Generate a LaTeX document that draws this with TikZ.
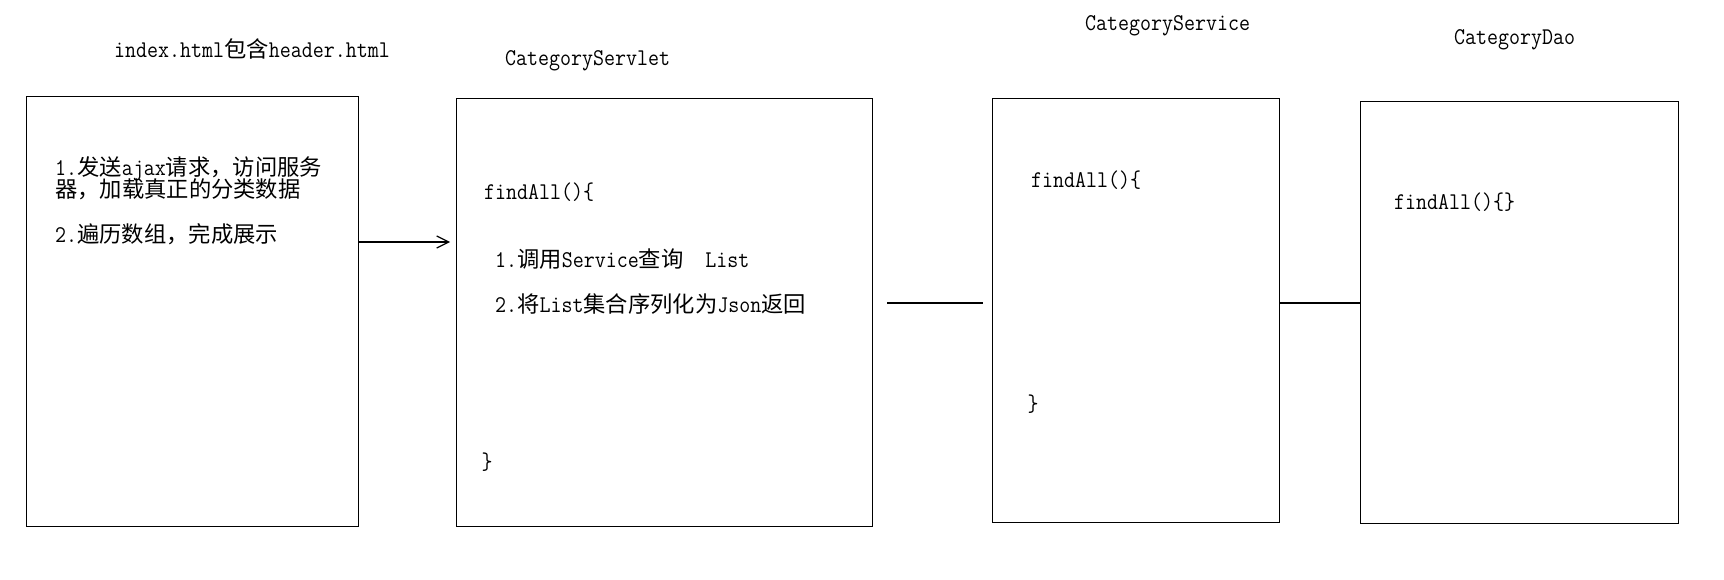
\documentclass[tikz,border=0pt]{standalone}
\usepackage{fontspec}
\setmainfont[FakeStretch=0.89]{Latin Modern Mono}
\newfontfamily\cjkf{Noto Sans CJK SC}
\usetikzlibrary{arrows.meta}
\newcommand\zh[1]{{\cjkf\fontsize{22.3pt}{20pt}\selectfont #1}}
\tikzset{
  box/.style={draw=black, line width=1.3pt, inner sep=0pt, anchor=north west},
  txt/.style={anchor=base west, inner sep=0pt, font=\fontsize{24pt}{20pt}\selectfont},
  brace/.style={anchor=center, inner sep=0pt, font=\fontsize{24pt}{20pt}\selectfont},
  conn/.style={draw=black, line width=1.3pt},
  arr/.style={conn, -{Straight Barb[length=12pt,width=12pt,line width=1.2pt]}}
}
\begin{document}
\begin{tikzpicture}[x=1pt,y=-1pt]
\fill[white] (0,0) rectangle (1724,580);
\useasboundingbox (0,0) rectangle (1724,580);
% boxes
\node[box, minimum width=332pt, minimum height=430pt] (b1) at (26,96) {};
\node[box, minimum width=416pt, minimum height=428pt] (b2) at (456,98) {};
\node[box, minimum width=287pt, minimum height=424pt] (b3) at (992,98) {};
\node[box, minimum width=318pt, minimum height=422pt] (b4) at (1360,101) {};
% titles
\node[txt] (t1) at (114,58) {index.html\zh{包含}header.html};
\node[txt] (t2) at (505,66) {CategoryServlet};
\node[txt] (t3) at (1085,31) {CategoryService};
\node[txt] (t4) at (1454,45) {CategoryDao};
% box 1
\node[txt, align=left] (a1) at (55,198) {1.\zh{发送}ajax\zh{请求，访问服务}\\[-3pt]\zh{器，加载真正的分类数据}};
\node[txt] (a3) at (55,243) {2.\zh{遍历数组，完成展示}};
% box 2
\node[txt] (s0) at (484,200) {findAll()\{};
\node[txt] (s1) at (495,267) {1.\zh{调用}Service\zh{查询}\ \ List};
\node[txt] (s2) at (495,312) {2.\zh{将}List\zh{集合序列化为}Json\zh{返回}};
\node[brace] (s3) at (487,462) {\}};
% box 3
\node[txt] (v0) at (1031,188) {findAll()\{};
\node[brace] (v1) at (1033,404) {\}};
% box 4
\node[txt] (d0) at (1394,210) {findAll()\{\}};
% connectors
\coordinate (arrEnd) at (450,242);
\draw[arr] (b1.east |- arrEnd) -- (arrEnd);
\coordinate (l1a) at (887,303);
\coordinate (l1b) at (983,303);
\draw[conn] (l1a) -- (l1b);
\coordinate (mid) at (0,303);
\draw[conn] (b3.east |- mid) -- (b4.west |- mid);
\end{tikzpicture}
\end{document}
